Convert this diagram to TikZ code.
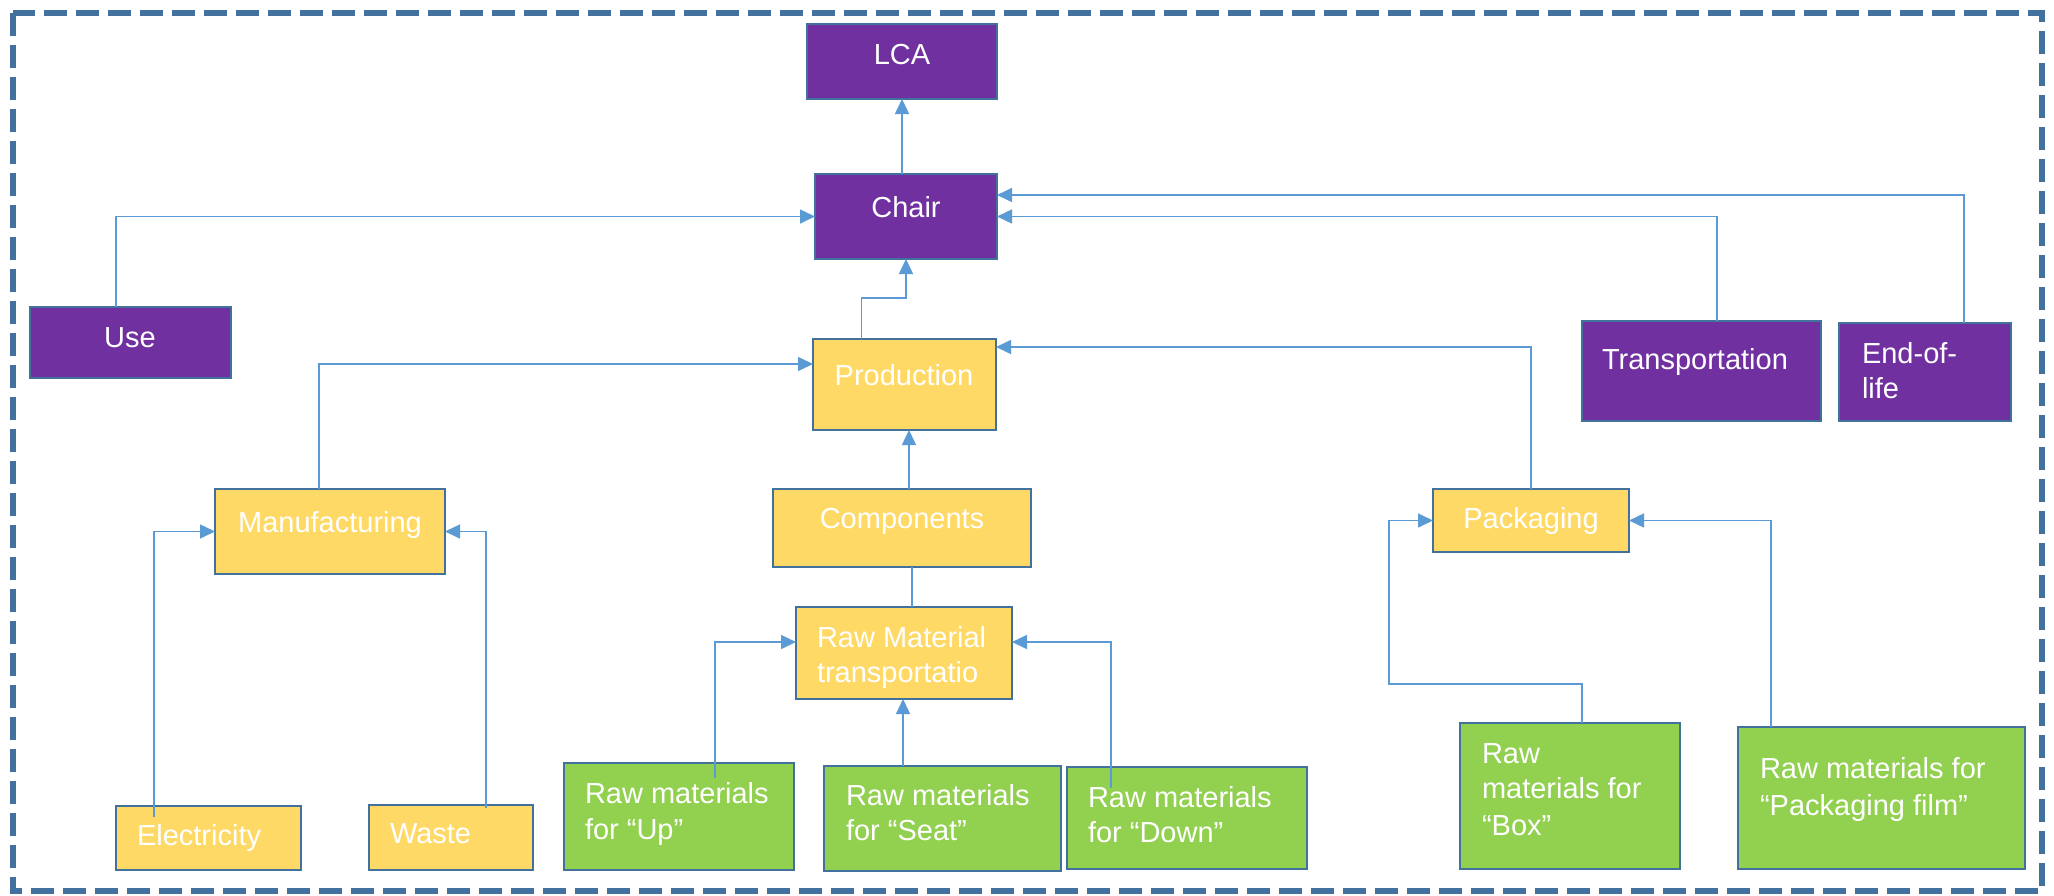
\documentclass[tikz,border=0pt]{standalone}
\usepackage{fontspec}
\setmainfont{Liberation Sans}
\usetikzlibrary{arrows.meta}
\definecolor{purp}{HTML}{7030A0}
\definecolor{yel}{HTML}{FFD966}
\definecolor{grn}{HTML}{92D050}
\definecolor{edgeblue}{HTML}{41719C}
\definecolor{connblue}{HTML}{5B9BD5}
\begin{document}
\begin{tikzpicture}[x=1pt,y=-1pt,
  nbox/.style={draw=edgeblue, line width=2.8pt, inner sep=0pt, outer sep=0pt, anchor=north west},
  pbox/.style={nbox, fill=purp},
  ybox/.style={nbox, fill=yel},
  gbox/.style={nbox, fill=grn},
  txt/.style={text=white, font=\fontsize{29}{36}\selectfont, inner sep=0pt, outer sep=0pt},
  cline/.style={draw=connblue, line width=1.5pt},
  arw/.style={cline, -{Triangle[length=15pt,width=14pt]}}]
\useasboundingbox (0,0) rectangle (2054,895);
\fill[white] (0,0) rectangle (2054,895);
\draw[edgeblue, line width=6pt, dash pattern=on 23pt off 9pt] (13,13) rectangle (2042,891);

% boxes
\node[pbox, minimum width=190, minimum height=75] (lca) at (807,24) {};
\node[pbox, minimum width=182, minimum height=85] (chair) at (815,174) {};
\node[pbox, minimum width=201, minimum height=71] (use) at (30,307) {};
\node[ybox, minimum width=183, minimum height=91] (prod) at (813,339) {};
\node[pbox, minimum width=239, minimum height=100] (trans) at (1582,321) {};
\node[pbox, minimum width=172, minimum height=98] (eol) at (1839,323) {};
\node[ybox, minimum width=230, minimum height=85] (manu) at (215,489) {};
\node[ybox, minimum width=258, minimum height=78] (comp) at (773,489) {};
\node[ybox, minimum width=196, minimum height=63] (pack) at (1433,489) {};
\node[ybox, minimum width=216, minimum height=92] (rmt) at (796,607) {};
\node[ybox, minimum width=185, minimum height=64] (elec) at (116,806) {};
\node[ybox, minimum width=164, minimum height=65] (waste) at (369,805) {};
\node[gbox, minimum width=230, minimum height=107] (up) at (564,763) {};
\node[gbox, minimum width=237, minimum height=105] (seat) at (824,766) {};
\node[gbox, minimum width=240, minimum height=102] (down) at (1067,767) {};
\node[gbox, minimum width=220, minimum height=146] (boxm) at (1460,723) {};
\node[gbox, minimum width=287, minimum height=142] (film) at (1738,727) {};

% texts
\node[txt, anchor=base] (lcaT) at (902,64) {LCA};
\node[txt, anchor=base] (chairT) at (906,217) {Chair};
\node[txt, anchor=base] (useT) at (130,347) {Use};
\node[txt, anchor=base] (prodT) at (904,385) {Production};
\node[txt, anchor=base west] (transT) at (1602,369) {Transportation};
\node[txt, anchor=base west] (eolT1) at (1862,363) {End-of-};
\node[txt, anchor=base west] (eolT2) at (1862,398) {life};
\node[txt, anchor=base] (manuT) at (330,532) {Manufacturing};
\node[txt, anchor=base] (compT) at (902,528) {Components};
\node[txt, anchor=base] (packT) at (1531,528) {Packaging};
\node[txt, anchor=base west] (rmtT1) at (817,647) {Raw Material};
\node[txt, anchor=base west] (rmtT2) at (817,682) {transportatio};
\node[txt, anchor=base west] (elecT) at (137,845) {Electricity};
\node[txt, anchor=base west] (wasteT) at (390,843) {Waste};
\node[txt, anchor=base west] (upT1) at (585,803) {Raw materials};
\node[txt, anchor=base west] (upT2) at (585,839) {for “Up”};
\node[txt, anchor=base west] (seatT1) at (846,805) {Raw materials};
\node[txt, anchor=base west] (seatT2) at (846,840) {for “Seat”};
\node[txt, anchor=base west] (downT1) at (1088,807) {Raw materials};
\node[txt, anchor=base west] (downT2) at (1088,842) {for “Down”};
\node[txt, anchor=base west] (boxT1) at (1482,763) {Raw};
\node[txt, anchor=base west] (boxT2) at (1482,798) {materials for};
\node[txt, anchor=base west] (boxT3) at (1482,835) {“Box”};
\node[txt, anchor=base west] (filmT1) at (1760,778) {Raw materials for};
\node[txt, anchor=base west] (filmT2) at (1760,815) {“Packaging film”};

% connectors
\draw[arw] (chair.north -| lca.south) -- (lca.south);
\draw[arw] ([xshift=-14.5]use.north) |- (chair.west);
\draw[arw] ([xshift=-43]prod.north) -- ++(0,-41) -| (chair.south);
\draw[arw] ([xshift=15.5]trans.north) |- (chair.east);
\draw[arw] ([xshift=39]eol.north) |- ([yshift=21.5]chair.east);
\draw[arw] ([xshift=-11]manu.north) |- ([yshift=20.5]prod.west);
\draw[arw] (pack.north) |- ([yshift=37.5]prod.east);
\draw[arw] ([xshift=7]comp.north) -- ([xshift=7]comp.north |- prod.south);
\draw[cline] ([xshift=10]comp.south) -- ([xshift=10]comp.south |- rmt.north);
\draw[arw] ([xshift=-54.5,yshift=-11]elec.north) |- (manu.west);
\draw[arw] ([xshift=35,yshift=-3]waste.north) |- (manu.east);
\draw[arw] ([xshift=36,yshift=-15]up.north) |- ([yshift=11]rmt.west);
\draw[arw] ([xshift=-39.5]seat.north) -- ([xshift=-39.5]seat.north |- rmt.south);
\draw[arw] ([xshift=-76,yshift=-21]down.north) |- ([yshift=11]rmt.east);
\draw[arw] ([xshift=12]boxm.north) -- ++(0,-39) -- ++(-193,0) |- (pack.west);
\draw[arw] ([xshift=-110.5]film.north) |- (pack.east);
\end{tikzpicture}
\end{document}
